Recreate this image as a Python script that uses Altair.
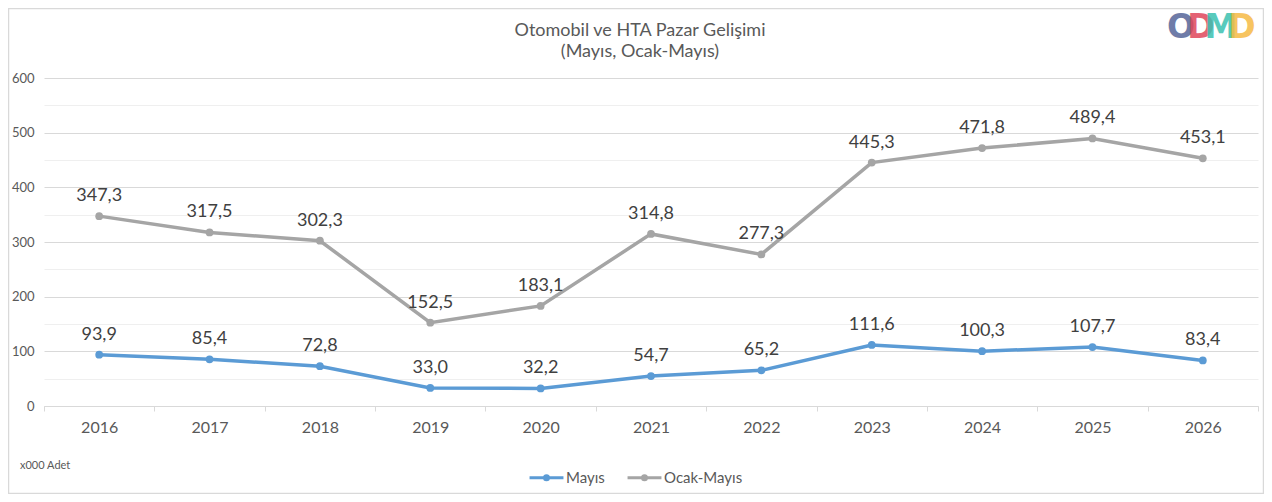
import altair as alt
import pandas as pd

# ---- data ----
years = ["2016", "2017", "2018", "2019", "2020", "2021", "2022", "2023", "2024", "2025", "2026"]
mayis = [93.9, 85.4, 72.8, 33.0, 32.2, 54.7, 65.2, 111.6, 100.3, 107.7, 83.4]
ocak_mayis = [347.3, 317.5, 302.3, 152.5, 183.1, 314.8, 277.3, 445.3, 471.8, 489.4, 453.1]
series_names = ["Mayıs", "Ocak-Mayıs"]
series_colors = ["#5B9BD5", "#A5A5A5"]
title_lines = ["Otomobil ve HTA Pazar Gelişimi", "(Mayıs, Ocak-Mayıs)"]
unit_note = "x000 Adet"
logo_letters = ["O", "D", "M", "D"]
logo_colors = ["#56669A", "#E0475C", "#3CC1B1", "#F6BA45"]

rows = []
for name, vals in zip(series_names, [mayis, ocak_mayis]):
    for yr, v in zip(years, vals):
        rows.append({"Yıl": yr, "Seri": name, "Değer": v,
                     "Etiket": f"{v:.1f}".replace(".", ",")})
df = pd.DataFrame(rows)

W, H = 1214, 328
FONT = "Lato"
TXT = "#595959"

x_enc = alt.X("Yıl:N", sort=years,
              scale=alt.Scale(type="band", paddingInner=0, paddingOuter=0),
              axis=alt.Axis(title=None, labelAngle=0, tickBand="extent",
                            domainColor="#d9d9d9", tickColor="#d9d9d9", tickSize=5,
                            labelPadding=8, labelFontSize=16, labelColor=TXT,
                            labelFont=FONT, grid=False))
y_enc = alt.Y("Değer:Q", scale=alt.Scale(domain=[0, 600], nice=False),
              axis=alt.Axis(title=None, values=list(range(0, 601, 50)),
                            labelExpr="datum.value % 100 === 0 ? datum.label : ''",
                            domain=False, ticks=False, labelPadding=10,
                            labelFontSize=13, labelColor=TXT, labelFont=FONT,
                            gridColor={"condition": {"test": "datum.value % 100 === 0",
                                                     "value": "#d9d9d9"},
                                       "value": "#efefef"}))
color_scale = alt.Scale(domain=series_names, range=series_colors)

base = alt.Chart(df).encode(x=x_enc, y=y_enc)

lines = base.mark_line(strokeWidth=3.5).encode(
    color=alt.Color("Seri:N", scale=color_scale,
                    legend=alt.Legend(title=None, orient="none", legendX=484, legendY=381,
                                      direction="horizontal",
                                      symbolType="M-1,0H1M-0.12,0A0.12,0.12 0 1 1 0.12,0A0.12,0.12 0 1 1 -0.12,0",
                                      symbolSize=1150, symbolStrokeWidth=3,
                                      labelFontSize=15, labelColor=TXT, labelFont=FONT,
                                      labelOffset=1, columnPadding=16)))
points = base.mark_point(filled=True, size=60, opacity=1).encode(
    color=alt.Color("Seri:N", scale=color_scale, legend=None))
labels = base.mark_text(dy=-15, fontSize=18, color="#404040", font=FONT,
                        baseline="alphabetic").encode(text="Etiket:N")

one = pd.DataFrame({"k": [0]})
border = alt.Chart(one).mark_rect(fillOpacity=0, stroke="#d9d9d9", strokeWidth=1.5).encode(
    x=alt.value(-35.5), x2=alt.value(1219.5), y=alt.value(-69.5), y2=alt.value(415.5))
note = alt.Chart(one).mark_text(text=unit_note, fontSize=11, color=TXT, font=FONT,
                                align="left", baseline="middle").encode(
    x=alt.value(-24), y=alt.value(388))

title_layers = []
for line, ty in zip(title_lines, [-47, -26]):
    title_layers.append(
        alt.Chart(one).mark_text(text=line, fontSize=18, color=TXT, font=FONT,
                                 align="center", baseline="middle").encode(
            x=alt.value(596), y=alt.value(ty)))

logo_x = [1137, 1157, 1177, 1198]
logo_layers = []
for letter, col, lx in zip(logo_letters, logo_colors, logo_x):
    logo_layers.append(
        alt.Chart(one).mark_text(text=letter, fontSize=33, fontWeight="bold",
                                 font="DejaVu Sans", color=col, opacity=0.85,
                                 align="center", baseline="middle").encode(
            x=alt.value(lx), y=alt.value(-50)))

chart = alt.layer(border, lines, points, labels, note, *title_layers, *logo_layers).properties(
    width=W, height=H,
    padding={"left": 36, "top": 70, "right": 6, "bottom": 88},
    autosize=alt.AutoSizeParams(type="none"),
    background="white",
).configure_view(stroke=None)

chart.save("out.html", embed_options={"renderer": "svg", "actions": False})
